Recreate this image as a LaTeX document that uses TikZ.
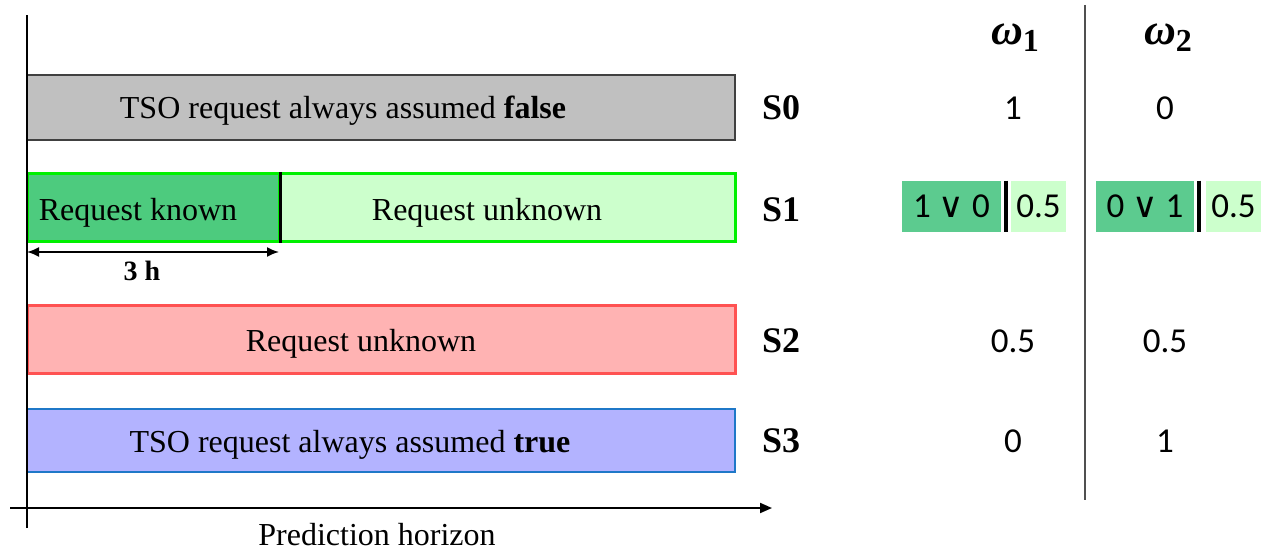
\documentclass[tikz,border=0pt]{standalone}
\usepackage{fontspec}
\setmainfont{Liberation Serif}
\newfontfamily\numfont{Carlito}
\newfontfamily\symfont{DejaVu Sans}
\usepackage{amsmath}
\usepackage{amssymb}
\usetikzlibrary{arrows.meta}

\definecolor{s0fill}{HTML}{C0C0C0}
\definecolor{s0line}{HTML}{404040}
\definecolor{s1fill}{HTML}{CCFFCC}
\definecolor{s1line}{HTML}{00F000}
\definecolor{knownfill}{HTML}{4DCB7E}
\definecolor{s2fill}{HTML}{FFB3B3}
\definecolor{s2line}{HTML}{FF5252}
\definecolor{s3fill}{HTML}{B3B3FF}
\definecolor{s3line}{HTML}{1F78C8}
\definecolor{darkcell}{HTML}{5CCB8F}
\definecolor{sepline}{HTML}{505050}

\newcommand{\wsub}[1]{{\bfseries\itshape ω}\raisebox{-0.35ex}{\fontsize{16}{18}\selectfont\bfseries #1}}

\begin{document}
\begin{tikzpicture}[x=0.5pt,y=-0.5pt,
    bar/.style={rectangle,minimum width=354pt,inner sep=0pt},
    txt/.style={font=\fontsize{16}{19}\selectfont,inner sep=0pt},
    tag/.style={font=\fontsize{18}{22}\selectfont\bfseries,inner sep=0pt},
    val/.style={font=\numfont\fontsize{17.5}{20}\selectfont,inner sep=0pt},
    cell/.style={rectangle,inner sep=0pt,minimum height=25.5pt},
    axis/.style={line width=1pt}
  ]
  \useasboundingbox (0,0) rectangle (1261,550);

  \node[bar,minimum height=32.5pt,fill=s0fill,draw=s0line,line width=1pt] (s0) at (381,107.5) {};
  \node[txt] (s0txt) at (343,111) {TSO request always assumed \textbf{false}};

  \node[bar,minimum height=34pt,fill=s1fill,draw=s1line,line width=1.5pt] (s1) at (381,208) {};
  \node[rectangle,inner sep=0pt,minimum width=126pt,minimum height=34pt,fill=knownfill,draw=s1line,line width=1.5pt] (known) at (153,208) {};
  \draw[line width=1.75pt] (known.north east) -- (known.south east);
  \node[txt] (knowntxt) at (138,213) {Request known};
  \node[txt] (unknowntxt) at (487,213) {Request unknown};

  \coordinate (h0) at (27,252);
  \coordinate (h1) at (279,252);
  \draw[{Latex[length=6pt,width=5pt]}-{Latex[length=6pt,width=5pt]},line width=0.9pt] (h0) -- (h1);
  \node[font=\fontsize{14}{17}\selectfont\bfseries,inner sep=0pt] (hours) at (142,271) {3 h};

  \node[bar,minimum height=34pt,fill=s2fill,draw=s2line,line width=1.5pt] (s2) at (381,339) {};
  \node[txt] (s2txt) at (361,344) {Request unknown};

  \node[bar,minimum height=31.5pt,fill=s3fill,draw=s3line,line width=0.75pt] (s3) at (381,440.5) {};
  \node[txt] (s3txt) at (350,445) {TSO request always assumed \textbf{true}};

  \coordinate (yb) at (27,528);
  \coordinate (yt) at (27,15);
  \coordinate (xl) at (10,508);
  \coordinate (xr) at (772,508);
  \draw[axis] (yb) -- (yt);
  \draw[axis,-{Triangle[length=6pt,width=5pt]}] (xl) -- (xr);
  \node[txt] (horizon) at (377,535) {Prediction horizon};

  \node[tag] (t0) at (781,108) {S0};
  \node[tag] (t1) at (781,210) {S1};
  \node[tag] (t2) at (781,341) {S2};
  \node[tag] (t3) at (781,441) {S3};

  \node[font=\fontsize{22}{26}\selectfont,inner sep=0pt] (w1) at (1015,38) {\wsub{1}};
  \node[font=\fontsize{22}{26}\selectfont,inner sep=0pt] (w2) at (1168,38) {\wsub{2}};
  \coordinate (sept) at (1085,5);
  \coordinate (sepb) at (1085,500);
  \draw[sepline,line width=1pt] (sept) -- (sepb);

  \node[val] (a0) at (1013,108) {1};
  \node[val] (b0) at (1165,108) {0};
  \node[val] (a2) at (1013,341) {0.5};
  \node[val] (b2) at (1165,341) {0.5};
  \node[val] (a3) at (1013,441) {0};
  \node[val] (b3) at (1165,441) {1};

  \node[cell,minimum width=49.5pt,fill=darkcell,val] (a1) at (951.5,206.5) {1 {\symfont ∨} 0};
  \node[cell,minimum width=27.5pt,fill=s1fill,val] (a1b) at (1038.5,206.5) {0.5};
  \draw[line width=2pt] (a1.north east) ++(5,0) coordinate (a1t) -- (a1.south east -| a1t);
  \node[cell,minimum width=49pt,fill=darkcell,val] (b1) at (1145,206.5) {0 {\symfont ∨} 1};
  \node[cell,minimum width=27.5pt,fill=s1fill,val] (b1b) at (1233.5,206.5) {0.5};
  \draw[line width=2pt] (b1.north east) ++(5,0) coordinate (b1t) -- (b1.south east -| b1t);
\end{tikzpicture}
\end{document}
